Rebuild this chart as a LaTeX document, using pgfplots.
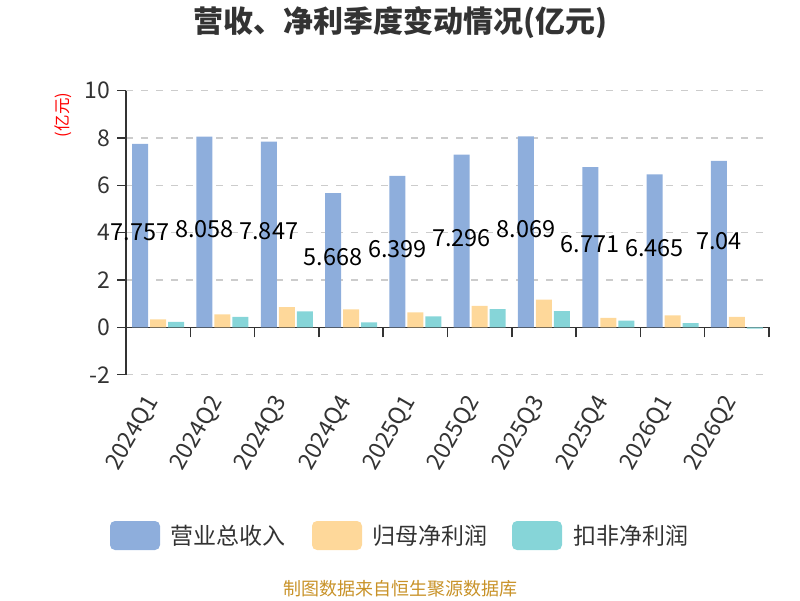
\documentclass[border=0pt]{standalone}
\usepackage{pgfplots}
\pgfplotsset{compat=1.18}
\usepackage{pgfplotstable}
\usepackage{fontspec}
\setmainfont{Noto Sans CJK SC}
\definecolor{cblue}{RGB}{142,174,220}
\definecolor{corange}{RGB}{254,216,154}
\definecolor{cteal}{RGB}{134,213,216}
\definecolor{ctext}{RGB}{51,51,51}
\definecolor{cgrid}{RGB}{204,204,204}
\definecolor{cfoot}{RGB}{200,146,40}
\pgfplotstableread{
x rev np dnp
0 7.757 0.34 0.23
1 8.058 0.55 0.44
2 7.847 0.86 0.68
3 5.668 0.76 0.21
4 6.399 0.63 0.46
5 7.296 0.91 0.77
6 8.069 1.17 0.69
7 6.771 0.40 0.28
8 6.465 0.51 0.18
9 7.04 0.44 -0.05
}\data
\begin{document}
\begin{tikzpicture}[x=1pt,y=1pt]
\begin{axis}[
  at={(126pt,225.3pt)}, anchor=south west, scale only axis,
  width=643pt, height=284pt,
  xmin=-0.5, xmax=9.5, ymin=-2, ymax=10,
  axis y line*=left, axis x line*=middle,
  hide obscured x ticks=false, hide obscured y ticks=false,
  axis line style={ctext, line width=1.5pt},
  tick style={ctext, line width=1.5pt},
  major tick length=9pt, minor tick length=10pt, tick align=outside,
  ytick={-2,0,2,4,6,8,10},
  ymajorgrids, grid style={cgrid, line width=1.3pt, dash pattern=on 7pt off 8pt},
  xtick={0,1,2,3,4,5,6,7,8,9},
  xticklabels={2024Q1,2024Q2,2024Q3,2024Q4,2025Q1,2025Q2,2025Q3,2025Q4,2026Q1,2026Q2},
  major x tick style={draw=none},
  minor xtick={-0.5,0.5,1.5,2.5,3.5,4.5,5.5,6.5,7.5,8.5,9.5},
  minor x tick style={ctext, line width=1.5pt},
  xticklabel style={yshift=-62pt, xshift=-5pt, rotate=60, anchor=east, inner sep=0pt},
  /pgf/number format/assume math mode=true,
  ticklabel style={font=\fontsize{23}{23}\selectfont, text=ctext},
  yticklabel style={xshift=-3pt},
]
\addplot[ybar, bar width=16pt, bar shift=-18pt, fill=cblue, draw=none] table[x=x,y=rev]{\data};
\addplot[ybar, bar width=16pt, bar shift=0pt, fill=corange, draw=none] table[x=x,y=np]{\data};
\addplot[ybar, bar width=16pt, bar shift=18pt, fill=cteal, draw=none] table[x=x,y=dnp]{\data};
\addplot[only marks, mark=none, point meta=explicit symbolic, nodes near coords,
  nodes near coords align=center,
  nodes near coords style={anchor=center, xshift=-18pt, yshift=3pt, inner sep=0pt, text=black, font=\fontsize{23.5}{23.5}\selectfont}]
  table[x=x, y expr=\thisrow{rev}/2, meta=rev]{\data};
\end{axis}
\node[font=\fontsize{30}{30}\selectfont\bfseries, text=ctext] at (400,577) {营收、净利季度变动情况(亿元)};
\node[rotate=90, text=red, font=\fontsize{16.5}{16.5}\selectfont] at (63,485) {(亿元)};
\fill[cblue, rounded corners=5pt] (110,50) rectangle (160,79);
\node[anchor=west, font=\fontsize{23}{23}\selectfont, text=ctext] at (167,64.5) {营业总收入};
\fill[corange, rounded corners=5pt] (312,50) rectangle (362,79);
\node[anchor=west, font=\fontsize{23}{23}\selectfont, text=ctext] at (369,64.5) {归母净利润};
\fill[cteal, rounded corners=5pt] (512,50) rectangle (562,79);
\node[anchor=west, font=\fontsize{23}{23}\selectfont, text=ctext] at (570,64.5) {扣非净利润};
\node[font=\fontsize{18}{18}\selectfont, text=cfoot] at (400,11) {制图数据来自恒生聚源数据库};
\pgfresetboundingbox
\path[use as bounding box] (0,0) rectangle (800,600);
\end{tikzpicture}
\end{document}
